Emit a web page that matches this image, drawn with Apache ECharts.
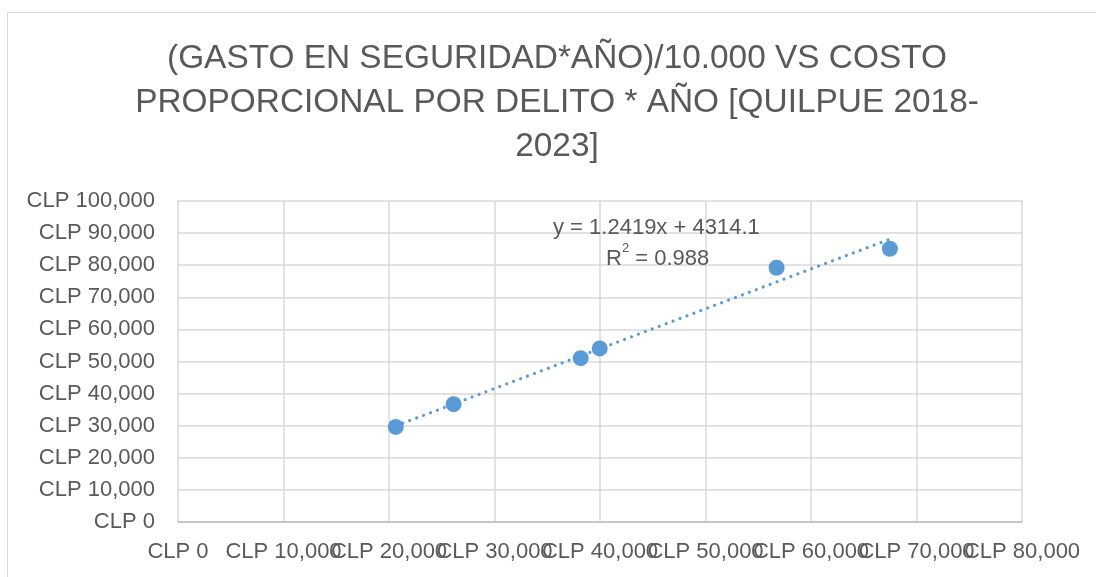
<!DOCTYPE html>
<html>
<head>
<meta charset="utf-8">
<script src="https://cdn.jsdelivr.net/npm/echarts@6/dist/echarts.min.js"></script>
<style>
	html, body { margin: 0; padding: 0; background: #ffffff; overflow: hidden; }
	#frame { position: absolute; left: 7px; top: 12px; width: 2000px; height: 2000px; border: 1px solid #d9d9d9; }
	#chart { position: absolute; left: 0; top: 0; width: 1114px; height: 577px; }
</style>
</head>
<body>
<div id="frame"></div>
<div id="chart"></div>
<script>
	// gasto en seguridad * año / 10.000 (eje x) vs costo proporcional por delito * año (eje y)
	const gastoX = [20645, 26123, 38171, 39972, 56739, 67479]
	const costoY = [29623, 36701, 51045, 54069, 79202, 85126]

	// linea de tendencia (como la muestra Excel)
	const pendiente = 1.2419
	const intercepto = 4314.1
	const r2 = 0.988
	const textoEcuacion = 'y = 1.2419x + 4314.1'

	const xMin = Math.min(...gastoX)
	const xMax = Math.max(...gastoX)
	const tendencia = [
		[xMin, pendiente * xMin + intercepto],
		[xMax, pendiente * xMax + intercepto]
	]

	const gris = '#595959'
	const fuente = '"Liberation Sans", Arial, sans-serif'
	const formatoCLP = (v) => 'CLP ' + v.toLocaleString('en-US')

	// las etiquetas del eje x se tapan unas a otras (como en Excel),
	// asi que se reparten en dos ejes para que ECharts no oculte ninguna
	const etiquetaX = (par) => ({
		color: gris,
		fontFamily: fuente,
		fontSize: 22,
		margin: 19,
		hideOverlap: false,
		showMinLabel: true,
		showMaxLabel: true,
		formatter: (v) => ((v / 10000) % 2 === par ? formatoCLP(v) : '')
	})

	const ejeX = {
		type: 'value',
		position: 'bottom',
		min: 0,
		max: 80000,
		interval: 10000,
		axisTick: { show: false }
	}

	const option = {
		animation: false,
		title: {
			text: '(GASTO EN SEGURIDAD*AÑO)/10.000 VS COSTO\nPROPORCIONAL POR DELITO * AÑO [QUILPUE 2018-\n2023]',
			left: 'center',
			top: 32,
			textStyle: {
				color: gris,
				fontFamily: fuente,
				fontWeight: 'normal',
				fontSize: 33.4,
				lineHeight: 44
			}
		},
		grid: {
			left: 178,
			right: 92,
			top: 201,
			bottom: 55
		},
		xAxis: [
			{
				...ejeX,
				axisLine: { show: true, lineStyle: { color: '#bfbfbf', width: 1.5 } },
				splitLine: { show: true, lineStyle: { color: '#d9d9d9', width: 1.5 } },
				axisLabel: etiquetaX(0)
			},
			{
				...ejeX,
				axisLine: { show: false },
				splitLine: { show: false },
				axisLabel: etiquetaX(1)
			}
		],
		yAxis: {
			type: 'value',
			min: 0,
			max: 100000,
			interval: 10000,
			axisLine: { show: false },
			axisTick: { show: false },
			splitLine: { show: true, lineStyle: { color: '#d9d9d9', width: 1.5 } },
			axisLabel: {
				color: gris,
				fontFamily: fuente,
				fontSize: 22,
				margin: 23,
				formatter: formatoCLP
			}
		},
		series: [
			{
				type: 'line',
				data: tendencia,
				symbol: 'none',
				silent: true,
				lineStyle: {
					color: '#5b9bd5',
					width: 3.2,
					type: [0.01, 7.4],
					cap: 'round'
				},
				z: 1
			},
			{
				type: 'scatter',
				data: gastoX.map((x, i) => [x, costoY[i]]),
				symbolSize: 16,
				itemStyle: { color: '#5b9bd5', opacity: 1 },
				z: 2
			}
		],
		graphic: [
			{
				type: 'text',
				left: 553,
				top: 217,
				z: 100,
				style: {
					text: textoEcuacion,
					fill: gris,
					font: '22px ' + fuente
				}
			},
			{
				type: 'text',
				left: 606,
				top: 240,
				z: 100,
				style: {
					text: '{a|R}{s|2}{a| = ' + r2 + '}',
					fill: gris,
					rich: {
						a: { fontSize: 22, fontFamily: fuente, fill: gris, lineHeight: 30, verticalAlign: 'bottom' },
						s: { fontSize: 13, fontFamily: fuente, fill: gris, lineHeight: 30, verticalAlign: 'top', padding: [2, 0, 0, 0] }
					}
				}
			}
		]
	}

	const grafico = echarts.init(document.getElementById('chart'))
	grafico.setOption(option)
</script>
</body>
</html>
